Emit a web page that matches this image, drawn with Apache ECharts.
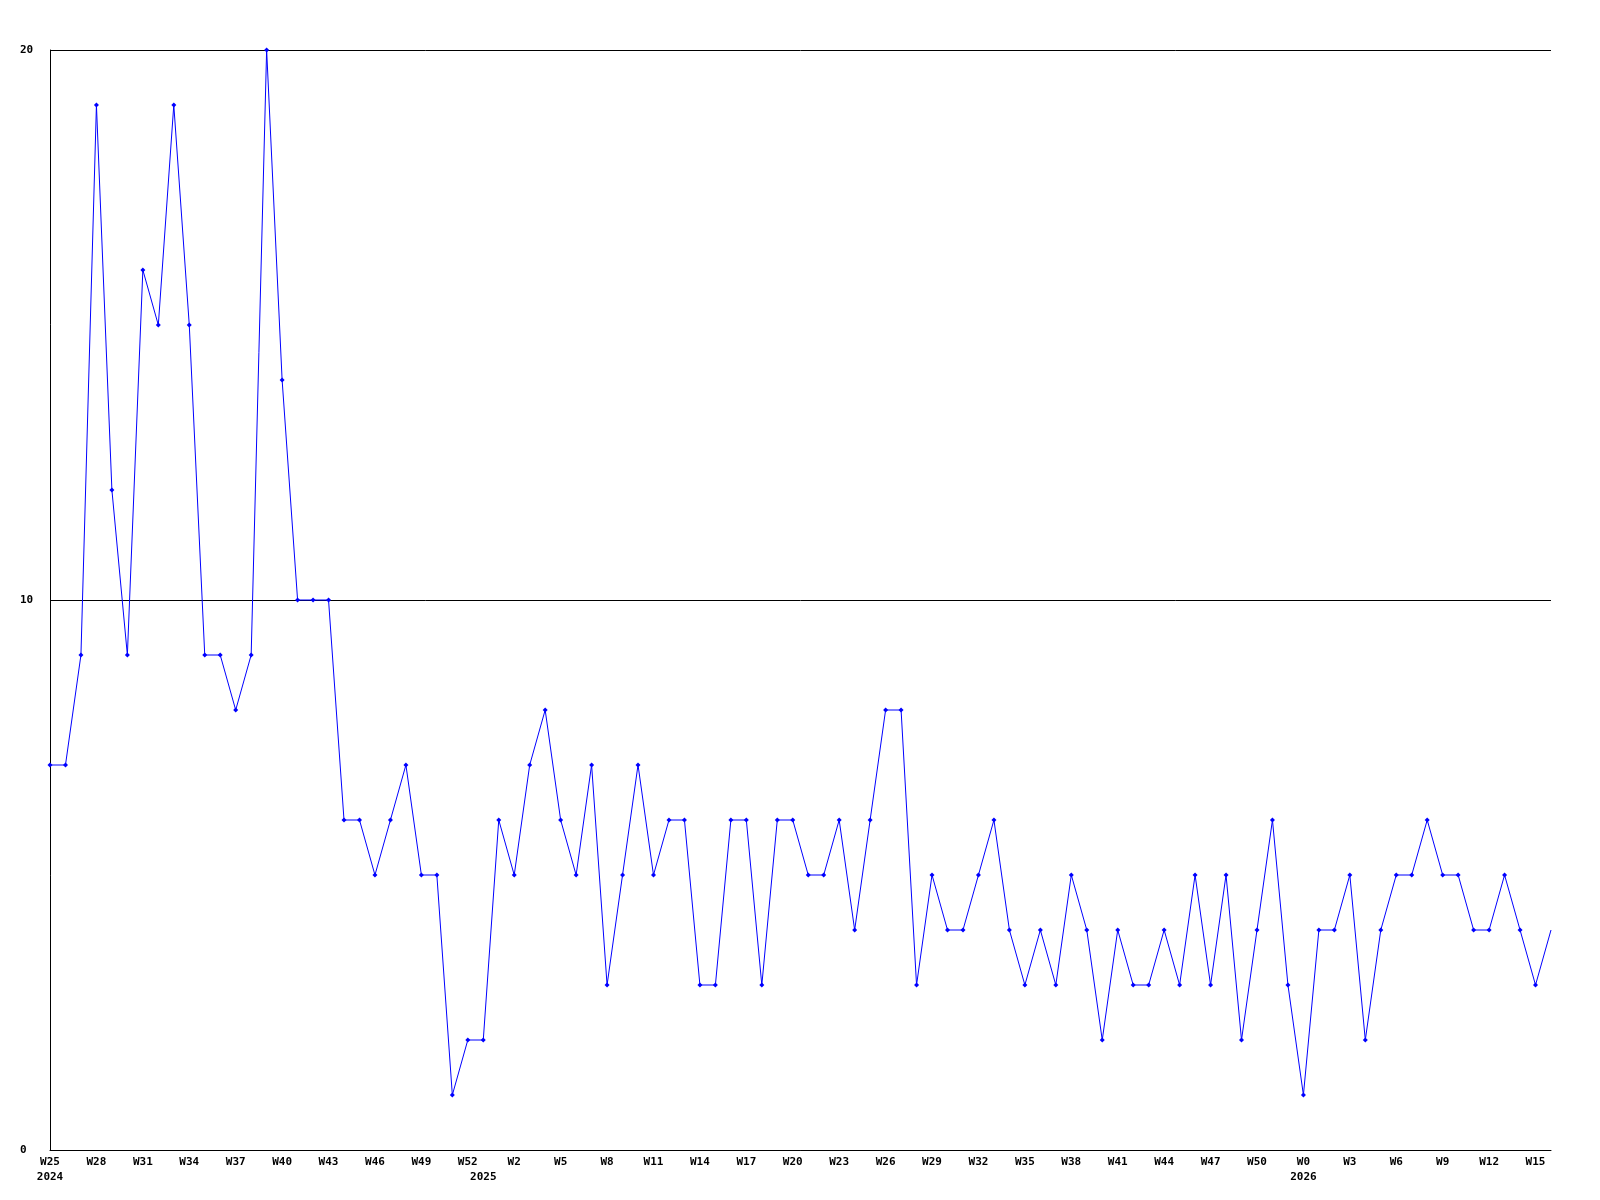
<!DOCTYPE html>
<html>
<head>
<meta charset="utf-8">
<script src="https://cdn.jsdelivr.net/npm/echarts@6/dist/echarts.min.js"></script>
<style>
  html, body { margin: 0; padding: 0; background: #fff; }
  #weekly-chart { width: 1600px; height: 1200px; }
</style>
</head>
<body>
<div id="weekly-chart"></div>
<script>
// week numbers per year (%U style, week 0 starts the year)
const weeks2024 = ['W25','W26','W27','W28','W29','W30','W31','W32','W33','W34','W35','W36','W37','W38',
  'W39','W40','W41','W42','W43','W44','W45','W46','W47','W48','W49','W50','W51','W52'];
const weeks2025 = ['W0','W1','W2','W3','W4','W5','W6','W7','W8','W9','W10','W11','W12','W13','W14','W15',
  'W16','W17','W18','W19','W20','W21','W22','W23','W24','W25','W26','W27','W28','W29','W30','W31','W32',
  'W33','W34','W35','W36','W37','W38','W39','W40','W41','W42','W43','W44','W45','W46','W47','W48','W49',
  'W50','W51','W52'];
const weeks2026 = ['W0','W1','W2','W3','W4','W5','W6','W7','W8','W9','W10','W11','W12','W13','W14','W15','W16'];

const years = ['2024', '2025', '2026'];

const values2024 = [7, 7, 9, 19, 12, 9, 16, 15, 19, 15, 9, 9, 8, 9, 20, 14, 10, 10, 10, 6, 6, 5, 6, 7, 5, 5, 1, 2];
const values2025 = [2, 6, 5, 7, 8, 6, 5, 7, 3, 5, 7, 5, 6, 6, 3, 3, 6, 6, 3, 6, 6, 5, 5, 6, 4, 6, 8, 8,
  3, 5, 4, 4, 5, 6, 4, 3, 4, 3, 5, 4, 2, 4, 3, 3, 4, 3, 5, 3, 5, 2, 4, 6, 3];
const values2026 = [1, 4, 4, 5, 2, 4, 5, 5, 6, 5, 5, 4, 4, 5, 4, 3, 4];

const categories = [...weeks2024, ...weeks2025, ...weeks2026];
const values = [...values2024, ...values2025, ...values2026];
// index where each year begins
const yearStart = { 0: years[0] };
yearStart[weeks2024.length] = years[1];
yearStart[weeks2024.length + weeks2025.length] = years[2];

const labelFont = {
  fontFamily: 'DejaVu Sans Mono',
  fontWeight: 'bold',
  fontSize: 11,
  color: '#000'
};

const myChart = echarts.init(document.getElementById('weekly-chart'), null, { renderer: 'canvas' });

const option = {
  animation: false,
  backgroundColor: '#fff',
  grid: { left: 50, right: 49, top: 50, bottom: 50 },
  xAxis: {
    type: 'category',
    data: categories,
    boundaryGap: false,
    axisLine: { show: true, lineStyle: { color: '#000', width: 1 } },
    axisTick: { show: false },
    splitLine: { show: false },
    axisLabel: {
      ...labelFont,
      interval: 0,
      margin: 5,
      lineHeight: 15,
      formatter: (value, index) => (index % 3 === 0 ? value : '') + '\n' + (yearStart[index] || '')
    }
  },
  yAxis: {
    type: 'value',
    min: 0,
    max: 20,
    interval: 10,
    axisLine: { show: true, lineStyle: { color: '#000', width: 1 } },
    axisTick: { show: false },
    splitLine: { show: true, lineStyle: { color: '#000', width: 1, type: 'solid' } },
    axisLabel: { ...labelFont, margin: 30, align: 'left' }
  },
  series: [
    {
      type: 'line',
      data: values.map((v, i) => i === values.length - 1 ? { value: v, symbol: 'none' } : v),
      symbol: 'diamond',
      symbolSize: 5,
      showAllSymbol: true,
      lineStyle: { color: '#0000ff', width: 1 },
      itemStyle: { color: '#0000ff' }
    }
  ]
};

option && myChart.setOption(option);
</script>
</body>
</html>
